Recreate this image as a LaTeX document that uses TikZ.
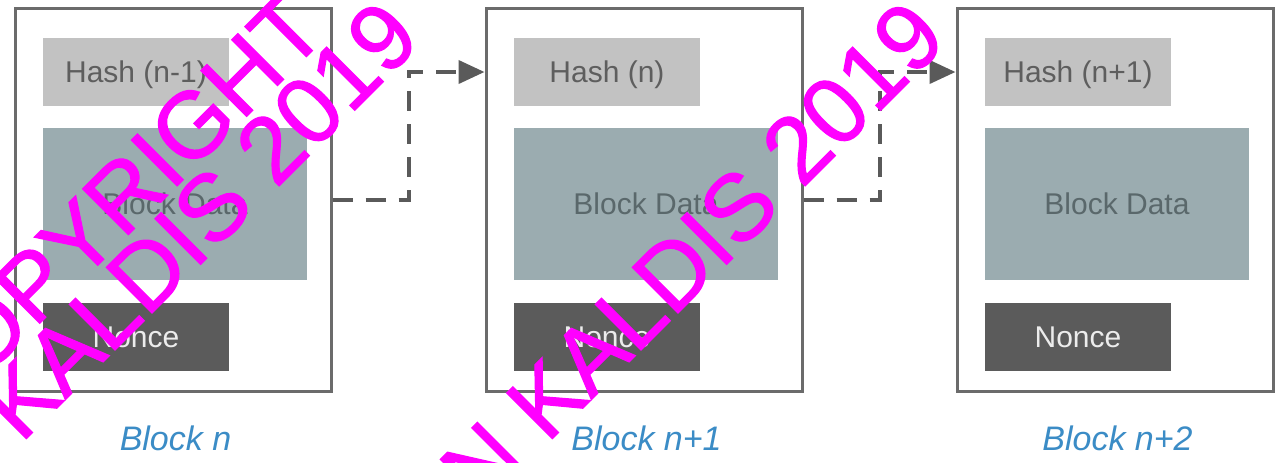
\documentclass[tikz,border=0pt]{standalone}
\usepackage{fontspec}
\setmainfont{Liberation Sans}
\newfontfamily\markfont[FakeBold=1.2]{Liberation Sans}
\usetikzlibrary{arrows.meta,calc}

\definecolor{framegray}{HTML}{6B6B6B}
\definecolor{hashfill}{HTML}{C2C2C2}
\definecolor{hashtext}{HTML}{5E5E5E}
\definecolor{datafill}{HTML}{9BACB0}
\definecolor{datatext}{HTML}{5A686B}
\definecolor{noncefill}{HTML}{5B5B5B}
\definecolor{noncetext}{HTML}{ECECEC}
\definecolor{labelblue}{HTML}{3B8CC6}
\definecolor{linkgray}{HTML}{5A5A5A}
\definecolor{wmmagenta}{HTML}{FF00FF}

\begin{document}
\begin{tikzpicture}[x=0.5pt, y=-0.5pt,
  blockbox/.style={draw=framegray, line width=1.5pt, fill=white,
    minimum width=158pt, minimum height=191.5pt, inner sep=0pt},
  field/.style={inner sep=0pt, text height=10.7pt, text depth=0pt,
    font=\fontsize{15}{18}\selectfont},
  hashbox/.style={field, fill=hashfill, text=hashtext,
    minimum width=93pt, minimum height=34pt},
  databox/.style={field, fill=datafill, text=datatext,
    minimum width=132pt, minimum height=76pt},
  noncebox/.style={field, fill=noncefill, text=noncetext,
    minimum width=93pt, minimum height=34pt},
  blocklabel/.style={text=labelblue, inner sep=0pt,
    font=\fontsize{17}{20}\selectfont\itshape},
  link/.style={draw=linkgray, line width=2pt, dash pattern=on 10pt off 6.5pt,
    -{Triangle[length=13pt, width=11.5pt]}},
  wmtext/.style={text=wmmagenta, inner sep=0pt, rotate=45,
    font=\markfont\fontsize{47}{47}\selectfont}
]
\useasboundingbox (0,0) rectangle (1281,462);
\fill[white] (0,0) rectangle (1281,462);

% the three chained blocks
\foreach \i/\x/\hash/\lab in {1/173/{Hash (n-1)}/{Block n},
                               2/644/{Hash (n)}/{Block n+1},
                               3/1115/{Hash (n+1)}/{Block n+2}} {
  \node[blockbox] (b\i) at (\x,199.5) {};
  \node[hashbox]  (h\i) at (\x-37,72) {\hash};
  \node[databox]  (d\i) at (\x+2,204) {Block Data};
  \node[noncebox] (n\i) at (\x-37,337) {Nonce};
  \node[blocklabel] (l\i) at (\x+2.5,438) {\lab};
}

% hash links from each block to the next one's hash field
\coordinate (m1) at ($(b1.east)!.5!(b2.west)$);
\coordinate (m2) at ($(b2.east)!.5!(b3.west)$);
\draw[link] (b1.east) -- (m1) |- (b2.west |- h2.center);
\draw[link] (b2.east) -- (m2) |- (b3.west |- h3.center);

% copyright overlay
\begin{scope}
  \clip (0,0) rectangle (1281,462);
  \node[wmtext, anchor=base east] (w1) at (330,33) {COPYRIGHT};
  \node[wmtext, anchor=base east] (w2) at (424,41) {N KALDIS 2019};
  \node[wmtext, anchor=base east] (w3) at (950,41) {N KALDIS 2019};
\end{scope}
\end{tikzpicture}
\end{document}
